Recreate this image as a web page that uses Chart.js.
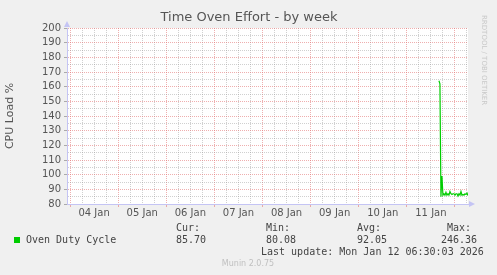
<!DOCTYPE html>
<html>
<head>
<meta charset="utf-8">
<script src="https://cdn.jsdelivr.net/npm/chart.js@4.4.1/dist/chart.umd.min.js"></script>
<style>
    html, body { margin: 0; padding: 0; background: #f0f0f0; }
    #oven_effort { display: block; }
</style>
</head>
<body>
<canvas id="oven_effort" width="497" height="275"></canvas>
<script>

// hours counted from 03 Jan 00:00, graph runs from 03 Jan 22:30 to 12 Jan 06:30
var startHour = 22.5;
var endHour = 222.5;

var dayLabels = ["04 Jan", "05 Jan", "06 Jan", "07 Jan", "08 Jan", "09 Jan", "10 Jan", "11 Jan"];
var dayNoons = [36, 60, 84, 108, 132, 156, 180, 204];

// oven duty cycle samples (30 min)
var sampleHours = [208, 208.5, 209, 209.5, 210, 210.5, 211, 211.5, 212, 212.5,
    213, 213.5, 214, 214.5, 215, 215.5, 216, 216.5, 217, 217.5,
    218, 218.5, 219, 219.5, 220, 220.5, 221, 221.5, 222, 222.5];
var dutyCycle = [164, 162, 85, 99, 86, 87, 86, 88, 86, 87,
    86, 88.5, 87, 86.5, 87, 87, 86, 87, 87, 85.5,
    87, 86, 88.5, 86, 86.5, 86, 87, 86.5, 87.5, 85.7];

var statNames = ["Cur:", "Min:", "Avg:", "Max:"];
var statValues = ["85.70", "80.08", "92.05", "246.36"];

var majorGrid = "rgba(225,110,110,0.55)";
var minorGrid = "rgba(150,150,150,0.45)";
var axisColor = "#c4c4f4";

var muninDecor = {
    id: 'muninDecor',
    beforeDraw: function (chart) {
        var c = chart.ctx;
        var area = chart.chartArea;
        c.save();
        c.fillStyle = "#f0f0f0";
        c.fillRect(0, 0, chart.width, chart.height);
        c.fillStyle = "#ffffff";
        c.fillRect(area.left, area.top, area.right - area.left, area.bottom - area.top);
        c.restore();
    },
    afterDraw: function (chart) {
        var c = chart.ctx;
        var area = chart.chartArea;
        c.save();

        // arrows at the end of the axes
        c.fillStyle = axisColor;
        c.beginPath();
        c.moveTo(area.left - 3, area.top - 1);
        c.lineTo(area.left + 3, area.top - 1);
        c.lineTo(area.left, area.top - 7);
        c.fill();
        c.beginPath();
        c.moveTo(area.right + 1, area.bottom - 3);
        c.lineTo(area.right + 1, area.bottom + 3);
        c.lineTo(area.right + 7, area.bottom);
        c.fill();

        // title
        c.fillStyle = "#555555";
        c.font = '13px "DejaVu Sans"';
        c.textAlign = "center";
        c.textBaseline = "middle";
        c.fillText("Time Oven Effort - by week", 249, 18);

        // rrdtool credit on the right
        c.save();
        c.translate(484, 15);
        c.rotate(Math.PI / 2);
        c.fillStyle = "#c8c8c8";
        c.font = '7px "DejaVu Sans"';
        c.textAlign = "left";
        c.fillText("RRDTOOL / TOBI OETIKER", 0, 0);
        c.restore();

        // legend
        c.fillStyle = "#00cc00";
        c.fillRect(14, 237, 6, 6);
        c.fillStyle = "#444444";
        c.font = '10px "DejaVu Sans Mono"';
        c.textAlign = "left";
        c.fillText("Oven Duty Cycle", 26, 240);

        var colX = [176, 266, 357, 447];
        var valX = [176, 266, 357, 441];
        for (var i = 0; i < statNames.length; i++) {
            c.fillText(statNames[i], colX[i], 228);
            c.fillText(statValues[i], valX[i], 240);
        }
        c.fillText("Last update: Mon Jan 12 06:30:03 2026", 261, 252);

        c.fillStyle = "#c0c0c0";
        c.font = '8px "DejaVu Sans"';
        c.textAlign = "center";
        c.fillText("Munin 2.0.75", 248, 264);
        c.restore();
    }
};

// fixed tick positions, every 6 hours on x and every 5 % on y
function every(from, to, step) {
    var res = [];
    for (var v = from; v <= to + 1e-9; v += step) {
        res.push({value: v});
    }
    return res;
}

function build_graph_oven_effort() {

    var ctx = document.getElementById("oven_effort");

    var points = [];
    for (var i = 0; i < sampleHours.length; i++) {
        points.push({x: sampleHours[i], y: dutyCycle[i]});
    }

    var data = {
        datasets: [
            {
                label: "Oven Duty Cycle",
                data: points,
                borderColor: "#00cc00",
                backgroundColor: "#00cc00",
                borderWidth: 1.2,
                pointRadius: 0,
                tension: 0,
                fill: false
            }
        ]
    };

    var option = {
        responsive: false,
        animation: false,
        layout: {
            padding: {left: 0, top: 28, right: 29, bottom: 0}
        },
        plugins: {
            legend: {display: false},
            title: {display: false},
            tooltip: {enabled: false}
        },
        scales: {
            x: {
                type: 'linear',
                min: startHour,
                max: endHour,
                afterBuildTicks: function (scale) {
                    scale.ticks = every(24, endHour, 6);
                },
                afterFit: function (scale) {
                    scale.height = 71;
                },
                grid: {
                    color: function (c) {
                        return c.tick.value % 24 === 0 ? majorGrid : minorGrid;
                    },
                    tickColor: function (c) {
                        return c.tick.value % 24 === 0 ? majorGrid : "rgba(0,0,0,0)";
                    },
                    tickLength: 3,
                    lineWidth: 1
                },
                border: {
                    color: axisColor,
                    width: 1,
                    dash: [1, 1]
                },
                ticks: {
                    autoSkip: false,
                    maxRotation: 0,
                    padding: 0,
                    color: "#555555",
                    font: {family: "DejaVu Sans", size: 10},
                    callback: function (value) {
                        var k = dayNoons.indexOf(value);
                        return k >= 0 ? dayLabels[k] : "";
                    }
                }
            },
            y: {
                min: 80,
                max: 200,
                afterBuildTicks: function (scale) {
                    scale.ticks = every(80, 200, 5);
                },
                afterFit: function (scale) {
                    scale.width = 67;
                },
                title: {
                    display: true,
                    text: "CPU Load %",
                    color: "#555555",
                    font: {family: "DejaVu Sans", size: 11}
                },
                grid: {
                    color: function (c) {
                        return c.tick.value % 10 === 0 ? majorGrid : minorGrid;
                    },
                    tickColor: function (c) {
                        return c.tick.value % 10 === 0 ? "#aaaaaa" : "rgba(0,0,0,0)";
                    },
                    tickLength: 3,
                    lineWidth: 1
                },
                border: {
                    color: axisColor,
                    width: 1,
                    dash: [1, 1]
                },
                ticks: {
                    autoSkip: false,
                    padding: 3,
                    color: "#555555",
                    font: {family: "DejaVu Sans", size: 10},
                    callback: function (value) {
                        return value % 10 === 0 ? value : "";
                    }
                }
            }
        }
    };

    var lineChart = new Chart(ctx, {
        type: 'line',
        data: data,
        options: option,
        plugins: [muninDecor]
    });

}

build_graph_oven_effort();

</script>
</body>
</html>
